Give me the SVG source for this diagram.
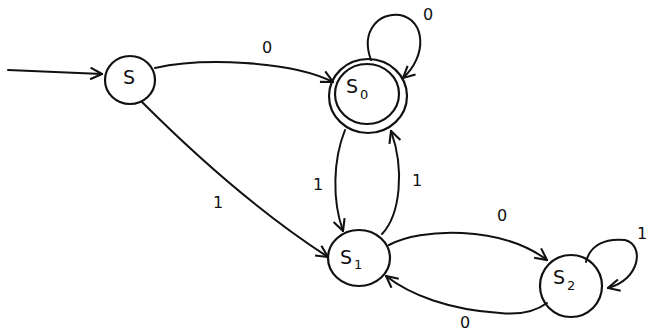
<svg xmlns="http://www.w3.org/2000/svg" width="646" height="331" viewBox="0 0 646 331">
<style>
.st{fill:none;stroke:#111;stroke-width:2.2}
.ed{fill:none;stroke:#111;stroke-width:2;stroke-linecap:round}
.lb{font-family:"DejaVu Sans",sans-serif;font-size:16px;fill:#111;text-anchor:middle;dominant-baseline:central}
.nl{font-family:"DejaVu Sans",sans-serif;font-size:19px;fill:#111}
.sub{font-size:13px}
</style>
<defs>
<marker id="ah" markerUnits="userSpaceOnUse" markerWidth="14" markerHeight="14" viewBox="0 0 12 12" refX="11" refY="6" orient="auto">
<path d="M1,1 L11,6 L1,11" fill="none" stroke="#111" stroke-width="1.8"/>
</marker>
</defs>
<rect width="646" height="331" fill="#fff"/>
<g id="connectors">
<path class="ed" d="M8,70 L102,74" marker-end="url(#ah)"/>
<path class="ed" d="M155,68 C200,58 290,60 333,82" marker-end="url(#ah)"/>
<path class="ed" d="M142,102 Q240,200 328,257" marker-end="url(#ah)"/>
<path class="ed" d="M345,130 C333,160 332,200 343,231" marker-end="url(#ah)"/>
<path class="ed" d="M382,234 C400,215 405,170 391,131" marker-end="url(#ah)"/>
<path class="ed" d="M389,245 C420,228 500,225 547,260" marker-end="url(#ah)"/>
<path class="ed" d="M547,303 C535,312 520,315 500,313 C450,310 410,295 386,276" marker-end="url(#ah)"/>
<path class="ed" d="M586,262 C590,245 605,238 625,240 C645,245 640,280 608,288" marker-end="url(#ah)"/>
<path class="ed" d="M371,60 C360,30 380,12 400,15 C425,20 428,55 403,78" marker-end="url(#ah)"/>
<text class="lb" x="267" y="47">0</text>
<text class="lb" x="428" y="14">0</text>
<text class="lb" x="318" y="184">1</text>
<text class="lb" x="417" y="180">1</text>
<text class="lb" x="218" y="202">1</text>
<text class="lb" x="502" y="215">0</text>
<text class="lb" x="465" y="322">0</text>
<text class="lb" x="642" y="233">1</text>
</g>
<g id="S">
<ellipse class="st" cx="130" cy="80" rx="25" ry="24"/>
<text class="nl" x="129" y="84" text-anchor="middle">S</text>
</g>
<g id="S0">
<ellipse class="st" cx="368" cy="96" rx="39" ry="37"/>
<ellipse class="st" cx="367" cy="94" rx="32" ry="30"/>
<text class="nl" x="346" y="93">S<tspan class="sub" dx="2" dy="6">0</tspan></text>
</g>
<g id="S1">
<ellipse class="st" cx="359" cy="258" rx="31" ry="28"/>
<text class="nl" x="340" y="264">S<tspan class="sub" dx="2" dy="5">1</tspan></text>
</g>
<g id="S2">
<ellipse class="st" cx="571" cy="286" rx="31" ry="31"/>
<text class="nl" x="553" y="284">S<tspan class="sub" dx="2" dy="6">2</tspan></text>
</g>
</svg>
